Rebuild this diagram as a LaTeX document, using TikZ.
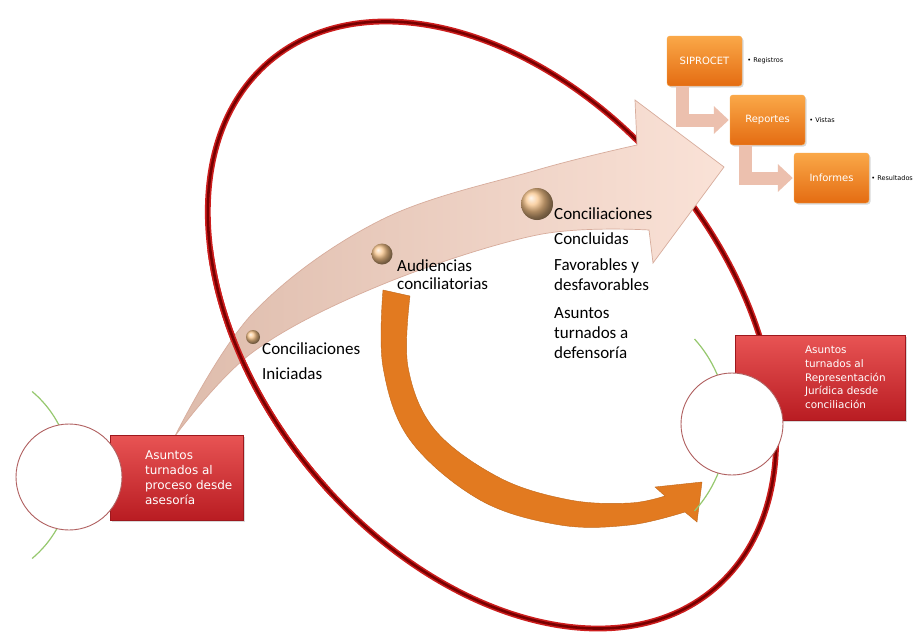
\documentclass[tikz,border=0pt]{standalone}
\usepackage{fontspec}
\setmainfont{Carlito}
\newfontfamily\boxfont{DejaVu Sans}
\usetikzlibrary{positioning}
\usetikzlibrary{arrows.meta}
\usetikzlibrary{shadows}

\definecolor{orbitred}{RGB}{205,30,30}
\definecolor{orbitdark}{RGB}{120,0,0}
\definecolor{peachdark}{RGB}{222,188,172}
\definecolor{peachlight}{RGB}{250,226,215}
\definecolor{peachedge}{RGB}{215,172,156}
\definecolor{turnorange}{RGB}{226,122,32}
\definecolor{caselight}{RGB}{232,84,84}
\definecolor{casedark}{RGB}{185,28,34}
\definecolor{holderedge}{RGB}{176,96,96}
\definecolor{linkgreen}{RGB}{150,200,110}
\definecolor{dotorange}{RGB}{248,196,138}
\definecolor{syslight}{RGB}{250,168,72}
\definecolor{sysdark}{RGB}{228,108,18}
\definecolor{flowpink}{RGB}{236,192,174}

\tikzset {
  orbit/.style = {
    draw = orbitred,
    line width = 1.6pt,
    double = orbitdark,
    double distance = 2.6pt
  },
  % the big pale arrow
  bigarrow/.style = {
    left color = peachdark,
    right color = peachlight,
    draw = peachedge,
    line width = 0.7pt
  },
  turnarrow/.style = {
    fill = turnorange,
    draw = turnorange!85!black,
    line width = 0.4pt
  },
  link/.style = {
    draw = linkgreen,
    line width = 1.2pt
  }
}
\tikzset {
  casebox/.style = {
    rectangle,
    top color = caselight,
    bottom color = casedark,
    draw = casedark!85!black,
    line width = 0.3pt,
    drop shadow = {shadow xshift=2pt, shadow yshift=-2pt, opacity=0.3}
  },
  casetext/.style = {
    font = \boxfont\fontsize{12}{15}\selectfont,
    text = white,
    align = left,
    inner sep = 0pt
  },
  holder/.style = {
    circle,
    draw = holderedge,
    line width = 0.9pt,
    fill = white,
    minimum size = #1
  },
  stepdot/.style = {
    circle,
    shading = ball,
    ball color = dotorange,
    minimum size = #1,
    inner sep = 0pt
  },
  steptext/.style = {
    anchor = north west,
    align = left,
    inner sep = 0pt,
    font = \fontsize{17}{20}\selectfont
  },
  sysbox/.style = {
    rectangle,
    rounded corners = 3pt,
    top color = syslight,
    bottom color = sysdark,
    draw = syslight,
    minimum width = 75pt,
    minimum height = 50pt,
    text = white,
    font = \boxfont\fontsize{10}{12}\selectfont,
    drop shadow = {shadow xshift=1.5pt, shadow yshift=-1.5pt, opacity=0.3}
  },
  sidenote/.style = {
    font = \boxfont\fontsize{6.5}{8}\selectfont,
    inner sep = 0pt
  },
  flowlink/.style = {
    draw = flowpink,
    line width = 13pt,
    -{Triangle[width=27pt, length=15pt]},
    shorten > = 1pt
  }
}

\begin{document}
\begin{tikzpicture}[x=1pt, y=-1pt]
  \useasboundingbox (0,0) rectangle (916,635);
  \fill[white] (0,0) rectangle (916,635);

  \draw[orbit, rotate around={130:(492,325)}] (492,325) ellipse [x radius=345, y radius=232];

  \draw[bigarrow] plot[smooth, tension=0.6] coordinates {(175,436) (253,313) (381,220) (537,170) (637,145)}
    -- (635,100) -- (724,167) -- (653,263) -- (649,230)
    -- plot[smooth, tension=0.6] coordinates {(649,230) (537,235) (381,285) (253,352) (175,436)}
    -- cycle;

  % the ring passes over the arrow on the left
  \begin{scope}
    \clip (0,250) rectangle (330,635);
    \draw[orbit, rotate around={130:(492,325)}] (492,325) ellipse [x radius=345, y radius=232];
  \end{scope}

  \fill[turnarrow] plot[smooth, tension=0.6] coordinates {(383,290) (383,367) (410,440) (480,500) (560,525) (630,525) (685,512)}
    -- (697,522) -- (702,482) -- (655,487) -- (665,496)
    -- plot[smooth, tension=0.6] coordinates {(665,496) (630,503) (570,500) (500,478) (435,430) (408,367) (410,296)}
    -- cycle;

  \draw[link] (32.1,391.5) arc[start angle=-50, end angle=50, radius=109];
  \draw[link] (694.5,339) arc[start angle=-42, end angle=42, radius=128.5];

  \node[casebox, minimum width=133pt, minimum height=85pt] (startbox) at (176.5,477.5) {};
  \node[casetext, anchor=west] (starttext) at ([xshift=35pt]startbox.west) {Asuntos\\turnados al\\proceso desde\\asesoría};
  \node[casebox, minimum width=170pt, minimum height=85pt] (endbox) at (820,377.5) {};
  \node[casetext, font=\boxfont\fontsize{10.4}{13.7}\selectfont, anchor=west] (endtext) at ([xshift=70pt]endbox.west) {Asuntos\\turnados al\\Representación\\Jurídica desde\\conciliación};

  \node[holder=106pt] (startring) at (69,477) {};
  \node[holder=102pt] (endring) at (732,424) {};

  \node[stepdot=14pt] (dotinit) at (253,337) {};
  \node[stepdot=21pt] (dotaud) at (382,254) {};
  \node[stepdot=32pt] (dotconc) at (537,204) {};

  \node[steptext] (initiated) at (262,342) {Conciliaciones\\[5pt]Iniciadas};
  \node[steptext] (hearings) at (397,259) {Audiencias\\[-2pt]conciliatorias};
  \node[steptext] (concluded) at (554,207) {Conciliaciones\\[5pt]Concluidas\\[6pt]Favorables y\\desfavorables\\[8pt]Asuntos\\turnados a\\defensoría};

  \node[sysbox] (siprocet) at (704.5,61) {SIPROCET};
  \node[sysbox] (reportes) at (767.5,120) {Reportes};
  \node[sysbox] (informes) at (831.5,178) {Informes};

  \draw[flowlink] ([xshift=16pt]siprocet.south west) |- (reportes.west);
  \draw[flowlink] ([xshift=16pt]reportes.south west) |- (informes.west);

  \node[sidenote, right=5pt of siprocet] (registros) {• Registros};
  \node[sidenote, right=4pt of reportes] (vistas) {• Vistas};
  \node[sidenote, right=2pt of informes] (resultados) {• Resultados};
\end{tikzpicture}
\end{document}
